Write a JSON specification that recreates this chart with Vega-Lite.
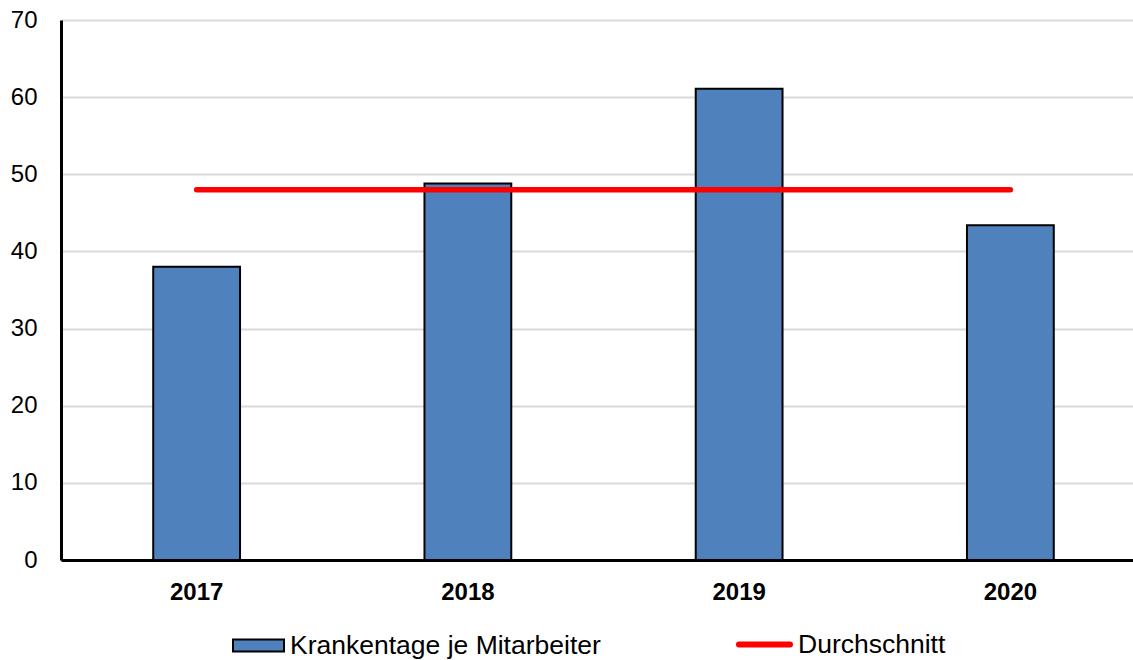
{
  "$schema": "https://vega.github.io/schema/vega-lite/v6.json",
  "width": 1072,
  "height": 540,
  "autosize": "none",
  "padding": {"left": 61, "top": 20, "right": 0, "bottom": 100},
  "background": "white",
  "config": {
    "view": {"stroke": null},
    "font": "Liberation Sans"
  },
  "datasets": {
    "bars": [
      {"Jahr": "2017", "Wert": 38.0, "Reihe": "Krankentage je Mitarbeiter"},
      {"Jahr": "2018", "Wert": 48.8, "Reihe": "Krankentage je Mitarbeiter"},
      {"Jahr": "2019", "Wert": 61.1, "Reihe": "Krankentage je Mitarbeiter"},
      {"Jahr": "2020", "Wert": 43.4, "Reihe": "Krankentage je Mitarbeiter"}
    ],
    "avg": [
      {"Jahr": "2017", "Wert": 48.0, "Reihe": "Durchschnitt"},
      {"Jahr": "2018", "Wert": 48.0, "Reihe": "Durchschnitt"},
      {"Jahr": "2019", "Wert": 48.0, "Reihe": "Durchschnitt"},
      {"Jahr": "2020", "Wert": 48.0, "Reihe": "Durchschnitt"}
    ]
  },
  "encoding": {
    "x": {
      "field": "Jahr",
      "type": "nominal",
      "sort": null,
      "scale": {"range": [0, 1085], "paddingInner": 0.68, "paddingOuter": 0.34},
      "axis": {
        "title": null,
        "labelAngle": 0,
        "labelFont": "Liberation Sans",
        "labelFontSize": 24,
        "labelFontWeight": "bold",
        "labelColor": "black",
        "labelPadding": 20,
        "ticks": false,
        "domainColor": "black",
        "domainWidth": 3,
        "grid": false
      }
    },
    "y": {
      "field": "Wert",
      "type": "quantitative",
      "scale": {"domain": [0, 70], "nice": false},
      "axis": {
        "title": null,
        "values": [0, 10, 20, 30, 40, 50, 60, 70],
        "labelFont": "Liberation Sans",
        "labelFontSize": 24,
        "labelColor": "black",
        "labelPadding": 24,
        "ticks": false,
        "domainColor": "black",
        "domainWidth": 3,
        "grid": true,
        "gridColor": "#D9D9D9",
        "gridWidth": 2
      }
    }
  },
  "layer": [
    {
      "data": {"name": "bars"},
      "mark": {"type": "bar", "stroke": "black", "strokeWidth": 2, "opacity": 1},
      "encoding": {
        "fill": {
          "field": "Reihe",
          "type": "nominal",
          "scale": {"domain": ["Krankentage je Mitarbeiter"], "range": ["#4F81BD"]},
          "legend": {
            "title": null,
            "orient": "none",
            "legendX": 171,
            "legendY": 599,
            "padding": 0,
            "symbolType": "M-1,-0.235H1V0.235H-1Z",
            "symbolSize": 2601,
            "symbolStrokeColor": "black",
            "symbolStrokeWidth": 2,
            "symbolOpacity": 1,
            "labelOffset": 5,
            "labelFont": "Liberation Sans",
            "labelFontSize": 26.5,
            "labelColor": "black",
            "labelLimit": 0
          }
        }
      }
    },
    {
      "data": {"name": "avg"},
      "mark": {"type": "line", "strokeWidth": 5.5, "strokeCap": "round", "opacity": 1},
      "encoding": {
        "stroke": {
          "field": "Reihe",
          "type": "nominal",
          "scale": {"domain": ["Durchschnitt"], "range": ["#FF0000"]},
          "legend": {
            "title": null,
            "orient": "none",
            "legendX": 675,
            "legendY": 596,
            "padding": 0,
            "symbolType": "M-1,0H1",
            "symbolSize": 2601,
            "symbolStrokeWidth": 6,
            "symbolOpacity": 1,
            "labelOffset": 5,
            "labelFont": "Liberation Sans",
            "labelFontSize": 26.5,
            "labelColor": "black",
            "labelLimit": 0,
            "encode": {
              "symbols": {
                "update": {"strokeCap": {"value": "round"}}
              }
            }
          }
        }
      }
    }
  ]
}
